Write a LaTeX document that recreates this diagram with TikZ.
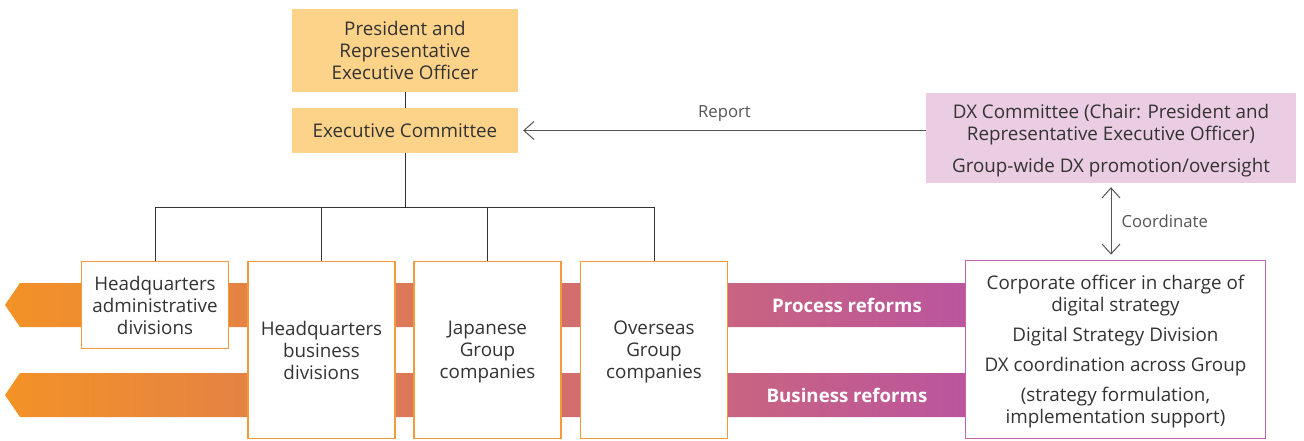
\documentclass[tikz,border=0pt]{standalone}
\usepackage{fontspec}
\setmainfont{Open Sans}
\usetikzlibrary{arrows.meta}
\usepackage{xcolor}
\definecolor{amarillo}{HTML}{FDD38A}
\definecolor{naranja}{HTML}{F39A3A}
\definecolor{rosa}{HTML}{EBCDE3}
\definecolor{magenta}{HTML}{C462AC}
\definecolor{bandaizq}{HTML}{F39226}
\definecolor{bandader}{HTML}{BB559E}
\definecolor{texto}{HTML}{333333}
\definecolor{gris}{HTML}{555555}

\begin{document}
\begin{tikzpicture}[x=1pt,y=-1pt,
    every node/.style={font=\fontsize{18.8}{22}\selectfont,align=center,text=texto,inner sep=0pt},
    top/.style={fill=amarillo,minimum width=226pt},
    unit/.style={draw=naranja,line width=1.6pt,fill=white,minimum width=147pt,text depth=0pt},
    dx/.style={fill=rosa,minimum width=370pt,minimum height=90pt,text depth=-4pt},
    office/.style={draw=magenta,line width=1.6pt,fill=white,minimum width=300pt,minimum height=178pt,text depth=-5pt},
    band/.style={left color=bandaizq,right color=bandader,draw=none},
    bandlabel/.style={text=white,font=\fontsize{18.7}{22}\selectfont\bfseries},
    tag/.style={text=gris,font=\fontsize{16.7}{20}\selectfont},
    tip/.style={gris,line width=1pt,{Straight Barb[length=10pt,width=18pt]}-{Straight Barb[length=10pt,width=18pt]}},
    tree/.style={texto,line width=0.9pt}
  ]
    \useasboundingbox (0,0) rectangle (1304,440);
    % reform bands behind the units
    \path[band] (5,305) -- (20,283) -- (965,283) -- (965,327) -- (20,327) -- cycle;
    \path[band] (5,395) -- (20,373) -- (965,373) -- (965,417) -- (20,417) -- cycle;
    \node[bandlabel] (process) at (847,305) {Process reforms};
    \node[bandlabel] (business) at (847,395) {Business reforms};

    \node[top,minimum height=83pt,text depth=-6pt] (pres) at (405,50.5) {President and\\Representative\\Executive Officer};
    \node[top,minimum height=45pt] (exec) at (405,130.5) {Executive Committee};
    \node[unit,minimum height=87pt] (hqadmin) at (155,305) {Headquarters\\administrative\\divisions};
    \node[unit,minimum height=177pt] (hqbiz) at (321.5,350) {Headquarters\\business\\divisions};
    \node[unit,minimum height=177pt] (jpgroup) at (487.5,350) {Japanese\\Group\\companies};
    \node[unit,minimum height=177pt] (osgroup) at (654,350) {Overseas\\Group\\companies};
    \node[dx] (dxcomm) at (1111,138) {DX Committee (Chair: President and\\Representative Executive Officer)\\[10pt]Group-wide DX promotion/oversight};
    \node[office] (cdo) at (1115.5,349.5) {Corporate officer in charge of\\digital strategy\\[8pt]Digital Strategy Division\\[8pt]DX coordination across Group\\[8pt](strategy formulation,\\implementation support)};

    % reporting tree
    \coordinate (bus) at (405,207);
    \draw[tree] (pres) -- (exec);
    \draw[tree] (exec) -- (bus);
    \draw[tree] (hqadmin.north |- bus) -- (osgroup.north |- bus);
    \foreach \n in {hqadmin,hqbiz,jpgroup,osgroup}
      \draw[tree] (\n.north) -- (\n.north |- bus);

    \draw[tip,-{Straight Barb[length=10pt,width=18pt]}] (dxcomm.west |- exec.east) -- node[tag,above=8pt] (report) {Report} ([xshift=5pt]exec.east);
    \draw[tip,shorten <=4pt,shorten >=5pt] (dxcomm.south) -- node[tag,right=10pt] (coord) {Coordinate} (dxcomm.south |- cdo.north);
  \end{tikzpicture}
\end{document}
